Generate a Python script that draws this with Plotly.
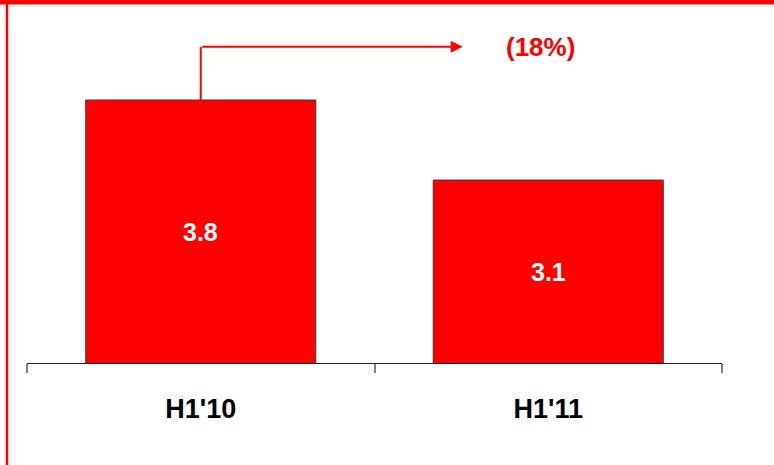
import plotly.graph_objects as go

# Half-year values (bn) and the change between them
periods = ["H1'10", "H1'11"]
values = [3.8, 3.1]
change_label = "(18%)"

RED = "#FF0000"
FONT = "Liberation Sans, Arial, sans-serif"

W, H = 774, 465
L, R, T, B = 27, 52, 20, 102
y_lo, y_hi = 1.5, 4.5
arrow_y = 4.265

fig = go.Figure(
    go.Bar(
        x=periods,
        y=values,
        width=0.662,
        marker=dict(color=RED, line=dict(color="#3a3a3a", width=1)),
        textposition="none",
        hoverinfo="skip",
    )
)

# Value labels centred in the visible part of each bar
for p, v in zip(periods, values):
    fig.add_annotation(x=p, y=(y_lo + v) / 2, xref="x", yref="y",
                       text=f"{v:.1f}", showarrow=False,
                       font=dict(family=FONT, size=25, color="white", weight="bold"))

# Frame: red band along the top and a thin rule down the left edge
pw = W - L - R
ph = H - T - B
def px_x(p):
    return (p - L) / pw
def px_y(p):
    return (H - B - p) / ph

fig.add_shape(type="rect", xref="paper", yref="paper",
              x0=px_x(0), x1=px_x(W), y0=px_y(4.5), y1=px_y(0),
              fillcolor=RED, line=dict(width=0), layer="above")
fig.add_shape(type="line", xref="paper", yref="paper",
              x0=px_x(7), x1=px_x(7), y0=px_y(H), y1=px_y(0),
              line=dict(color=RED, width=2.5))

# Change indicator: riser from the first bar, then arrow to the right
fig.add_shape(type="line", xref="x", yref="y",
              x0=0, x1=0, y0=values[0], y1=arrow_y,
              line=dict(color=RED, width=2))
fig.add_annotation(x=0.754, y=arrow_y, ax=0, ay=arrow_y,
                   xref="x", yref="y", axref="x", ayref="y",
                   text="", showarrow=True, arrowhead=2, arrowsize=1.2,
                   arrowwidth=2, arrowcolor=RED)
fig.add_annotation(x=0.979, y=arrow_y, xref="x", yref="y",
                   text=change_label, showarrow=False,
                   font=dict(family=FONT, size=26, color=RED, weight="bold"))

fig.update_layout(
    width=W, height=H,
    margin=dict(l=L, r=R, t=T, b=B),
    paper_bgcolor="white", plot_bgcolor="white",
    showlegend=False,
    xaxis=dict(
        type="category", range=[-0.5, 1.5],
        showline=True, linecolor="#222222", linewidth=1,
        ticks="outside", tickson="boundaries", ticklen=9,
        tickwidth=2, tickcolor="#808080",
        showgrid=False, zeroline=False,
        tickfont=dict(family=FONT, size=27, color="black", weight="bold"),
        ticklabelstandoff=22,
    ),
    yaxis=dict(range=[y_lo, y_hi], visible=False, showgrid=False, zeroline=False),
)

fig.write_html("out.html")
